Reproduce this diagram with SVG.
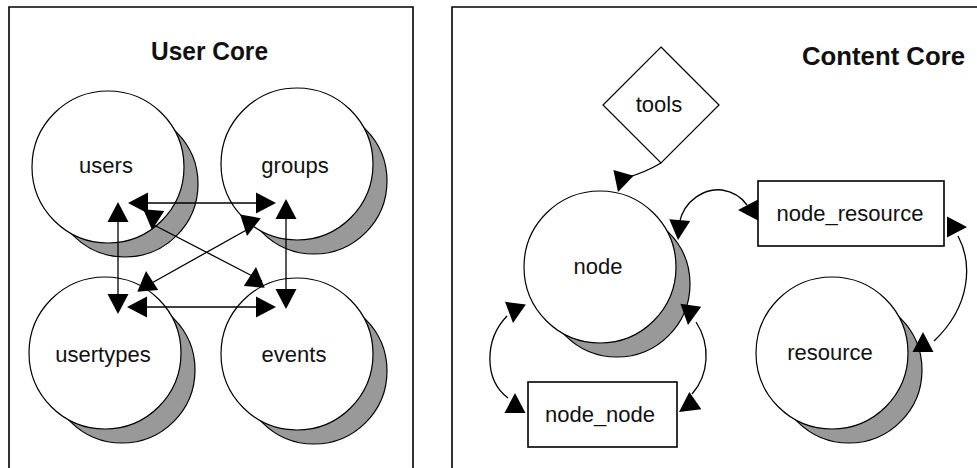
<svg xmlns="http://www.w3.org/2000/svg" xmlns:xlink="http://www.w3.org/1999/xlink" width="977" height="468" viewBox="0 0 977 468">
  <style>
    .frame { fill: none; stroke: #000; stroke-width: 1.6; }
    .shadow { fill: #999; stroke: #000; stroke-width: 1.2; }
    .body { fill: #fff; stroke: #000; stroke-width: 1.2; }
    .box { fill: #fff; stroke: #000; stroke-width: 1.6; }
    .label { font-family: "Liberation Sans", Arial, sans-serif; font-size: 22px; fill: #111; text-anchor: middle; }
    .title { font-family: "Liberation Sans", Arial, sans-serif; font-size: 26px; font-weight: bold; fill: #111; }
    .wire { fill: none; stroke: #000; stroke-width: 1.3; }
    .head { fill: #000; }
  </style>
  <defs>
    <!-- filled arrowhead, tip at the origin, pointing along +x -->
    <path id="ah" d="M0,0 L-20,-10.5 L-20,10.5 Z"/>
  </defs>

  <rect width="977" height="468" fill="#fff"/>

  <!-- panel frames -->
  <path class="frame" d="M9,470 V7 H413 V470"/>
  <path class="frame" d="M452,470 V7 H980"/>

  <text class="title" x="151" y="60" textLength="117" lengthAdjust="spacingAndGlyphs">User Core</text>
  <text class="title" x="802" y="65" textLength="163" lengthAdjust="spacingAndGlyphs">Content Core</text>

  <!-- User Core nodes: a grey offset disc behind each circle gives the crescent shadow -->
  <g id="users">
    <circle class="shadow" cx="125" cy="184" r="73"/>
    <circle class="body" cx="108" cy="167" r="76"/>
    <text class="label" x="106" y="173">users</text>
  </g>
  <g id="groups">
    <circle class="shadow" cx="314" cy="181" r="73"/>
    <circle class="body" cx="297" cy="164" r="76"/>
    <text class="label" x="295" y="173">groups</text>
  </g>
  <g id="usertypes">
    <circle class="shadow" cx="122" cy="370" r="73"/>
    <circle class="body" cx="105" cy="353" r="76"/>
    <text class="label" x="103" y="362">usertypes</text>
  </g>
  <g id="events">
    <circle class="shadow" cx="314" cy="371" r="73"/>
    <circle class="body" cx="297" cy="354" r="76"/>
    <text class="label" x="294" y="362">events</text>
  </g>

  <!-- Content Core nodes -->
  <g id="tools">
    <polygon class="body" points="661,47 719,105 661,163 603,105"/>
    <text class="label" x="659" y="112">tools</text>
  </g>
  <g id="node">
    <circle class="shadow" cx="617" cy="284" r="73"/>
    <circle class="body" cx="600" cy="267" r="76"/>
    <text class="label" x="598" y="274">node</text>
  </g>
  <g id="node_resource">
    <rect class="box" x="758" y="181" width="186" height="65"/>
    <text class="label" x="850" y="221">node_resource</text>
  </g>
  <g id="resource">
    <circle class="shadow" cx="849" cy="370" r="73"/>
    <circle class="body" cx="832" cy="353" r="76"/>
    <text class="label" x="830" y="360">resource</text>
  </g>
  <g id="node_node">
    <rect class="box" x="528" y="382" width="149" height="65"/>
    <text class="label" x="600" y="422">node_node</text>
  </g>

  <!-- connectors -->
  <g id="connectors">
    <line class="wire" x1="140" y1="203" x2="265" y2="203"/>
    <line class="wire" x1="140" y1="307" x2="265" y2="307"/>
    <line class="wire" x1="118" y1="215" x2="118" y2="300"/>
    <line class="wire" x1="286" y1="212" x2="286" y2="296"/>
    <line class="wire" x1="152" y1="224" x2="262" y2="281"/>
    <line class="wire" x1="250" y1="228" x2="150" y2="284"/>

    <path class="wire" stroke-width="2" d="M661,163 Q646,172 626,178"/>
    <path class="wire" d="M679,224 C684,199 706,188 722,190 C735,192 742,198 747,205"/>
    <path class="wire" d="M958,236 C972,262 972,305 934,341"/>
    <path class="wire" d="M507,316 C484,340 484,380 508,398"/>
    <path class="wire" d="M696,322 C711,345 709,375 692,394"/>

    <g class="head">
      <use xlink:href="#ah" transform="translate(128,203) rotate(180)"/>
      <use xlink:href="#ah" transform="translate(276,203)"/>
      <use xlink:href="#ah" transform="translate(127,307) rotate(180)"/>
      <use xlink:href="#ah" transform="translate(276,307)"/>
      <use xlink:href="#ah" transform="translate(118,202) rotate(-90)"/>
      <use xlink:href="#ah" transform="translate(118,314) rotate(90)"/>
      <use xlink:href="#ah" transform="translate(286,199) rotate(-90)"/>
      <use xlink:href="#ah" transform="translate(286,309) rotate(90)"/>
      <use xlink:href="#ah" transform="translate(152,230) rotate(95)"/>
      <use xlink:href="#ah" transform="translate(247,236) rotate(100)"/>
      <use xlink:href="#ah" transform="translate(146,271) rotate(-95)"/>
      <use xlink:href="#ah" transform="translate(256,267) rotate(-85)"/>

      <use xlink:href="#ah" transform="translate(618,192) rotate(106)"/>
      <use xlink:href="#ah" transform="translate(678,240) rotate(95)"/>
      <use xlink:href="#ah" transform="translate(738,210) rotate(180)"/>
      <use xlink:href="#ah" transform="translate(967,227)"/>
      <use xlink:href="#ah" transform="translate(923,332) rotate(-90)"/>
      <use xlink:href="#ah" transform="translate(513,323) rotate(97)"/>
      <use xlink:href="#ah" transform="translate(515,393) rotate(-90)"/>
      <use xlink:href="#ah" transform="translate(688,325) rotate(98)"/>
      <use xlink:href="#ah" transform="translate(679,412) rotate(145)"/>
    </g>
  </g>
</svg>
